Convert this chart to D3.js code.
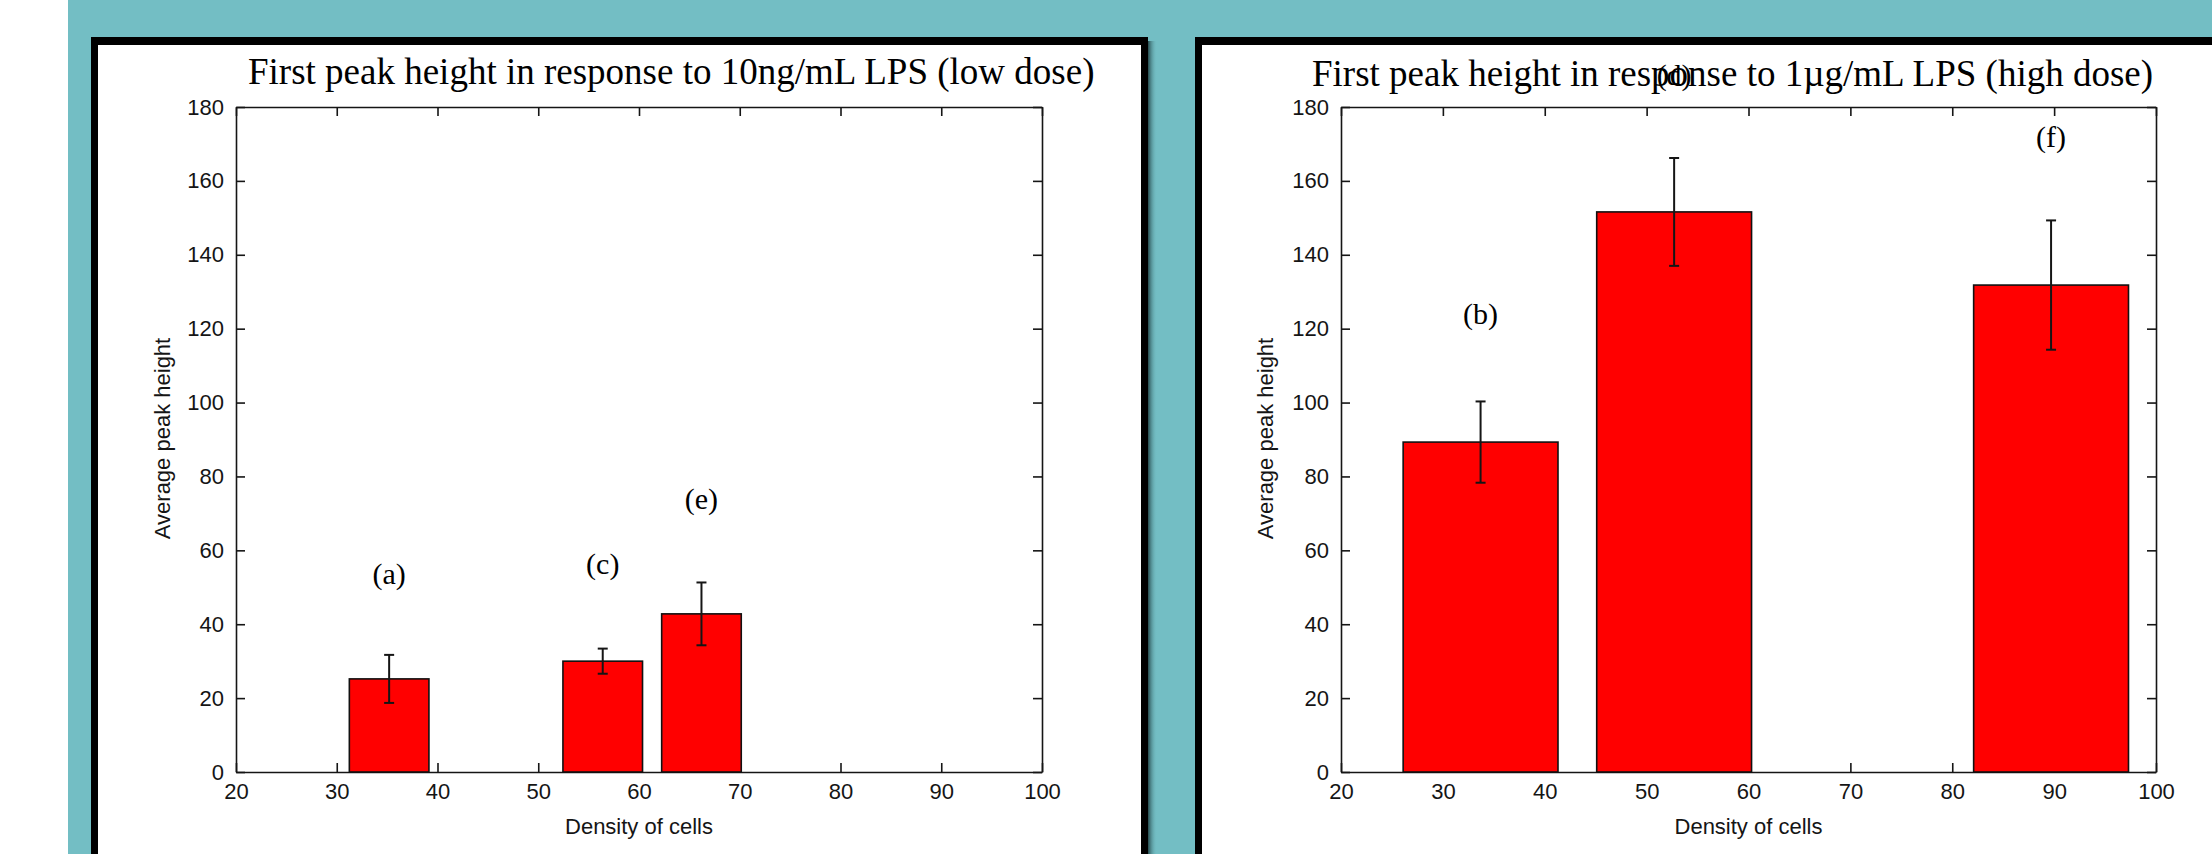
<!DOCTYPE html>
<html>
<head>
<meta charset="utf-8">
<script src="https://cdn.jsdelivr.net/npm/d3@7"></script>
<style>
  html, body { margin: 0; padding: 0; background: #fff; }
  svg { display: block; }
</style>
</head>
<body>
<div id="chart"></div>
<script>
// shared axis ticks
const xTicks = [20, 30, 40, 50, 60, 70, 80, 90, 100]
const yTicks = [0, 20, 40, 60, 80, 100, 120, 140, 160, 180]

// low dose panel (10ng/mL)
const lowTitle = 'First peak height in response to 10ng/mL LPS (low dose)'
const lowDensity = [35.2, 56.4, 66.2]
const lowPeak = [25.2, 30.0, 42.8]
const lowError = [6.5, 3.4, 8.5]
const lowLabels = ['(a)', '(c)', '(e)']
const lowLabelY = [51, 53.6, 71.2]

// high dose panel (1µg/mL)
const highTitle = 'First peak height in response to 1\u00b5g/mL LPS (high dose)'
const highDensity = [33.7, 52.7, 89.7]
const highPeak = [89.3, 151.6, 131.8]
const highError = [11, 14.6, 17.5]
const highLabels = ['(b)', '(d)', '(f)']
const highLabelY = [121.3, 186, 169.2]

const width = 2212
const height = 854
const sans = '"Liberation Sans", Arial, Helvetica, sans-serif'
const serif = '"Liberation Serif", "Times New Roman", serif'

const svg = d3.select('#chart').append('svg')
  .attr('width', width)
  .attr('height', height)

const defs = svg.append('defs')
const shadow = defs.append('linearGradient').attr('id', 'shadow')
shadow.append('stop').attr('offset', '0%').attr('stop-color', '#1e3d40').attr('stop-opacity', 0.9)
shadow.append('stop').attr('offset', '100%').attr('stop-color', '#73bec4').attr('stop-opacity', 0)

svg.append('rect')
  .attr('width', width).attr('height', height)
  .attr('fill', '#fff')

svg.append('rect')
  .attr('x', 68).attr('y', 0)
  .attr('width', width - 68).attr('height', height)
  .attr('fill', '#73bec4')

const drawPanel = ({ frame, plot, title, titleX, titleY, yLabelX, density, peak, error, labels, labelY, barWidth }) => {
  // black framed white card
  svg.append('rect')
    .attr('x', frame.x + frame.w).attr('y', frame.y + 4)
    .attr('width', 9).attr('height', height)
    .attr('fill', 'url(#shadow)')

  svg.append('rect')
    .attr('x', frame.x).attr('y', frame.y)
    .attr('width', frame.w).attr('height', height)
    .attr('fill', '#000')

  svg.append('rect')
    .attr('x', frame.x + 7).attr('y', frame.y + 8)
    .attr('width', frame.w - 14).attr('height', height)
    .attr('fill', '#fff')

  const x = d3.scaleLinear()
    .domain([20, 100])
    .range([plot.left, plot.right])

  const y = d3.scaleLinear()
    .domain([0, 180])
    .range([plot.bottom, plot.top])

  const styleAxis = g => g
    .attr('font-family', sans)
    .attr('font-size', 22)
    .attr('color', '#151515')
    .call(g => g.selectAll('path, line').attr('stroke-width', 1.6))

  svg.append('g')
    .attr('transform', `translate(0,${plot.bottom})`)
    .call(d3.axisBottom(x).tickValues(xTicks).tickSize(-9).tickSizeOuter(0).tickPadding(11))
    .call(styleAxis)

  svg.append('g')
    .attr('transform', `translate(0,${plot.top})`)
    .call(d3.axisTop(x).tickValues(xTicks).tickSize(-9).tickSizeOuter(0).tickFormat(''))
    .call(styleAxis)

  svg.append('g')
    .attr('transform', `translate(${plot.left},0)`)
    .call(d3.axisLeft(y).tickValues(yTicks).tickSize(-9).tickSizeOuter(0).tickPadding(12))
    .call(styleAxis)

  svg.append('g')
    .attr('transform', `translate(${plot.right},0)`)
    .call(d3.axisRight(y).tickValues(yTicks).tickSize(-9).tickSizeOuter(0).tickFormat(''))
    .call(styleAxis)

  const rows = density.map((d, i) => ({ density: d, peak: peak[i], error: error[i], label: labels[i], labelY: labelY[i] }))

  svg.append('g')
    .selectAll('rect')
    .data(rows)
    .join('rect')
    .attr('x', d => x(d.density - barWidth / 2))
    .attr('y', d => y(d.peak))
    .attr('width', d => x(d.density + barWidth / 2) - x(d.density - barWidth / 2))
    .attr('height', d => y(0) - y(d.peak))
    .attr('fill', '#ff0000')
    .attr('stroke', '#111')
    .attr('stroke-width', 1.6)

  const err = svg.append('g')
    .attr('stroke', '#151515')
    .attr('stroke-width', 2)
    .selectAll('g')
    .data(rows)
    .join('g')

  err.append('line')
    .attr('x1', d => x(d.density)).attr('x2', d => x(d.density))
    .attr('y1', d => y(d.peak - d.error)).attr('y2', d => y(d.peak + d.error))

  err.selectAll('.cap')
    .data(d => [d.peak - d.error, d.peak + d.error].map(v => ({ cx: d.density, v })))
    .join('line')
    .attr('class', 'cap')
    .attr('x1', d => x(d.cx) - 5).attr('x2', d => x(d.cx) + 5)
    .attr('y1', d => y(d.v)).attr('y2', d => y(d.v))

  // axis titles
  svg.append('text')
    .attr('x', (plot.left + plot.right) / 2)
    .attr('y', 834)
    .attr('text-anchor', 'middle')
    .attr('font-family', sans)
    .attr('font-size', 22)
    .attr('fill', '#151515')
    .text('Density of cells')

  svg.append('text')
    .attr('transform', `translate(${yLabelX},${(plot.top + plot.bottom) / 2 - 1}) rotate(-90)`)
    .attr('text-anchor', 'middle')
    .attr('font-family', sans)
    .attr('font-size', 22)
    .attr('fill', '#151515')
    .text('Average peak height')

  svg.append('text')
    .attr('x', titleX)
    .attr('y', titleY)
    .attr('font-family', serif)
    .attr('font-size', 37)
    .attr('fill', '#000')
    .text(title)

  svg.append('g')
    .selectAll('text')
    .data(rows)
    .join('text')
    .attr('x', d => x(d.density))
    .attr('y', d => y(d.labelY))
    .attr('text-anchor', 'middle')
    .attr('font-family', serif)
    .attr('font-size', 30)
    .attr('fill', '#000')
    .text(d => d.label)
}

drawPanel({
  frame: { x: 91, y: 37, w: 1057 },
  plot: { left: 236, right: 1042, top: 107, bottom: 772 },
  title: lowTitle,
  titleX: 248,
  titleY: 84,
  yLabelX: 170,
  density: lowDensity,
  peak: lowPeak,
  error: lowError,
  labels: lowLabels,
  labelY: lowLabelY,
  barWidth: 7.9
})

drawPanel({
  frame: { x: 1195, y: 37, w: 1100 },
  plot: { left: 1341, right: 2156, top: 107, bottom: 772 },
  title: highTitle,
  titleX: 1312,
  titleY: 86,
  yLabelX: 1273,
  density: highDensity,
  peak: highPeak,
  error: highError,
  labels: highLabels,
  labelY: highLabelY,
  barWidth: 15.2
})
</script>
</body>
</html>
